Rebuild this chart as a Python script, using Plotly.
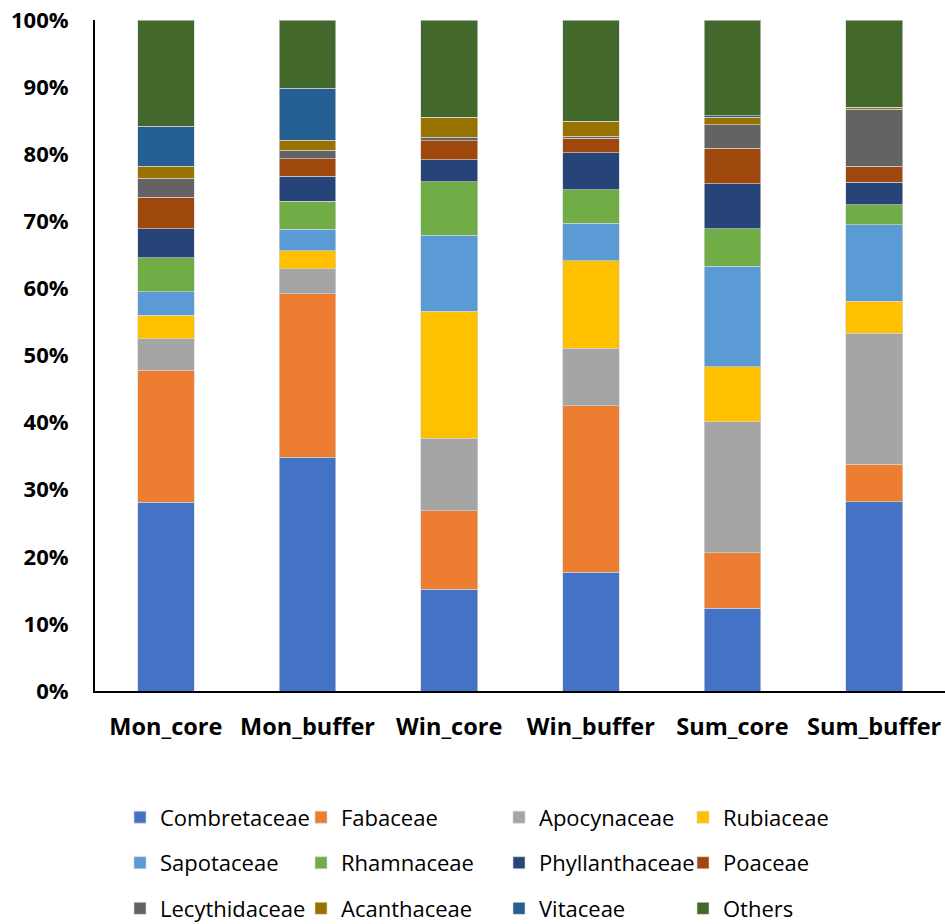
import plotly.graph_objects as go

# Sampling sites
sites = ["Mon_core", "Mon_buffer", "Win_core", "Win_buffer", "Sum_core", "Sum_buffer"]

# Relative abundance (%) of each plant family per site
combretaceae   = [28.1, 34.8, 15.2, 17.7, 12.3, 28.2]
fabaceae       = [19.7, 24.4, 11.7, 24.8,  8.3,  5.6]
apocynaceae    = [ 4.7,  3.7, 10.8,  8.6, 19.5, 19.5]
rubiaceae      = [ 3.5,  2.7, 18.9, 13.0,  8.2,  4.8]
sapotaceae     = [ 3.5,  3.2, 11.3,  5.6, 15.0, 11.4]
rhamnaceae     = [ 5.1,  4.2,  8.0,  5.0,  5.6,  3.0]
phyllanthaceae = [ 4.3,  3.7,  3.3,  5.5,  6.7,  3.3]
poaceae        = [ 4.7,  2.6,  2.8,  2.2,  5.3,  2.4]
lecythidaceae  = [ 2.8,  1.3,  0.5,  0.3,  3.5,  8.5]
acanthaceae    = [ 1.8,  1.5,  3.0,  2.2,  1.1,  0.3]
vitaceae       = [ 6.0,  7.7,  0.0,  0.0,  0.2,  0.0]
others         = [15.8, 10.2, 14.5, 15.1, 14.3, 13.0]

families = ["Combretaceae", "Fabaceae", "Apocynaceae", "Rubiaceae",
            "Sapotaceae", "Rhamnaceae", "Phyllanthaceae", "Poaceae",
            "Lecythidaceae", "Acanthaceae", "Vitaceae", "Others"]
series = [combretaceae, fabaceae, apocynaceae, rubiaceae,
          sapotaceae, rhamnaceae, phyllanthaceae, poaceae,
          lecythidaceae, acanthaceae, vitaceae, others]
colors = ["#4472C4", "#ED7D31", "#A5A5A5", "#FFC000",
          "#5B9BD5", "#70AD47", "#264478", "#9E480E",
          "#636363", "#997300", "#255E91", "#43682B"]

# y-axis ticks
y_tickvals = [0, 10, 20, 30, 40, 50, 60, 70, 80, 90, 100]
y_ticktext = ["0%", "10%", "20%", "30%", "40%", "50%", "60%", "70%", "80%", "90%", "100%"]

FONT = "Open Sans"
legend_names = ["legend", "legend2", "legend3", "legend4"]

fig = go.Figure()
for i, (name, vals, col) in enumerate(zip(families, series, colors)):
    fig.add_trace(go.Bar(
        x=sites, y=vals, name=name,
        marker=dict(color=col, line=dict(color="rgba(215,215,215,0.8)", width=0.8)),
        width=0.4,
        legend=legend_names[i % 4],
        legendgroup=name,
    ))

# four legend columns laid out side by side under the plot
col_x = [120, 301, 499, 683]
legend_common = dict(
    orientation="v", yanchor="top", xanchor="left",
    font=dict(family=FONT, size=22, color="#000000"),
    bgcolor="rgba(0,0,0,0)", tracegroupgap=14, traceorder="grouped",
)
plot_left, plot_w = 95, 850
layout_legends = {}
for name, px in zip(legend_names, col_x):
    layout_legends[name] = dict(x=(px - plot_left) / plot_w, y=-0.157, **legend_common)

fig.update_layout(
    width=945, height=924,
    margin=dict(l=95, r=0, t=20, b=233, autoexpand=False),
    barmode="stack",
    plot_bgcolor="white", paper_bgcolor="white",
    font=dict(family=FONT, color="#000000"),
    showlegend=True,
    **layout_legends,
)

fig.update_xaxes(
    showline=True, linecolor="#000000", linewidth=2,
    showgrid=False, ticks="",
    tickfont=dict(family=FONT, size=23.5, color="#000000", weight="bold"),
    ticklabelstandoff=14,
)
fig.update_yaxes(
    range=[0, 100], tickvals=y_tickvals, ticktext=y_ticktext,
    showline=True, linecolor="#000000", linewidth=2,
    showgrid=False, ticks="", zeroline=False,
    tickfont=dict(family=FONT, size=22, color="#000000", weight="bold"),
    ticklabelstandoff=20,
)

fig.write_html("out.html")
